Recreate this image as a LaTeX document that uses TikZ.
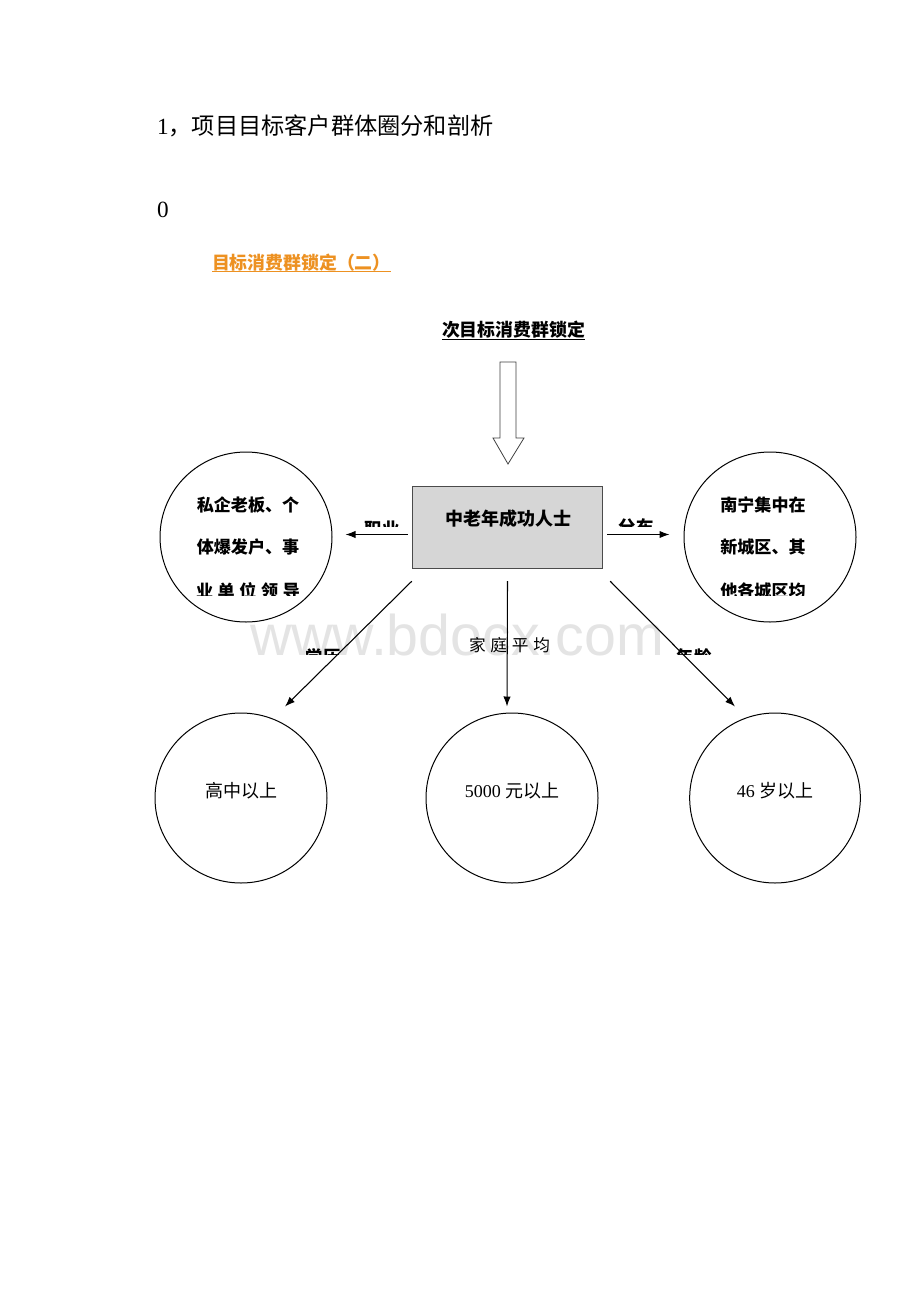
\documentclass[tikz,border=0pt]{standalone}
\usepackage{fontspec}
\setmainfont{Liberation Serif}
\newfontfamily\cjk{Noto Sans CJK SC}
\newfontfamily\wmfont{Liberation Sans}
\usetikzlibrary{arrows.meta,shapes.geometric}
\definecolor{orng}{RGB}{237,145,33}
\definecolor{boxfill}{RGB}{214,214,214}
\definecolor{boxline}{RGB}{75,75,75}
\definecolor{wmgray}{RGB}{228,228,228}
\begin{document}
\begin{tikzpicture}[x=0.75pt,y=-0.75pt,
  txt/.style={inner sep=0pt, outer sep=0pt},
  ctext/.style={txt, font=\cjk\bfseries\fontsize{12.8pt}{14pt}\selectfont},
  lbl/.style={txt, anchor=base, font=\cjk\bfseries\fontsize{13pt}{14pt}\selectfont},
  bubble/.style={draw=black, line width=0.75pt, ellipse, inner sep=0pt},
  arr/.style={line width=0.8pt, -{Latex[length=7.5pt,width=5.5pt]}},
  btext/.style={txt, font=\cjk\fontsize{13.5pt}{15pt}\selectfont}
]
\fill[white] (0,0) rectangle (920,1302);
\useasboundingbox (0,0) rectangle (920,1302);

% watermark
\node[txt, anchor=base west, text=wmgray, font=\wmfont\fontsize{43pt}{43pt}\selectfont] (wm) at (250,655) {www.bdocx.com};

% headings
\node[txt, anchor=west, font=\cjk\fontsize{17.4pt}{19pt}\selectfont] (title) at (157,126) {{\rmfamily 1}，项目目标客户群体圈分和剖析};
\node[txt, anchor=west, font=\rmfamily\fontsize{17.4pt}{19pt}\selectfont] (zero) at (157,210) {0};
\node[txt, anchor=west, text=orng, font=\cjk\bfseries\fontsize{13.4pt}{15pt}\selectfont] (sub) at (212,263) {目标消费群锁定（二）};
\coordinate (u1) at (0,271.5);
\draw[orng, line width=0.8pt] (sub.west |- u1) -- (sub.east |- u1);
\node[txt, font=\cjk\bfseries\fontsize{13.4pt}{15pt}\selectfont] (head) at (513.5,330) {次目标消费群锁定};
\coordinate (u2) at (0,339.5);
\draw[black, line width=0.8pt] (head.west |- u2) -- (head.east |- u2);

% hollow arrow
\draw[black!75, line width=0.6pt] (500,362) -- (516,362) -- (516,438) -- (524,438) -- (508,464) -- (493,438) -- (500,438) -- cycle;

% central box
\node[draw=boxline, line width=1.1pt, fill=boxfill, minimum width=142.5pt, minimum height=61.5pt, inner sep=0pt] (box) at (507.5,527.5) {};
\node[txt, font=\cjk\bfseries\fontsize{13.5pt}{15pt}\selectfont] (boxtext) at (508,519) {中老年成功人士};

% upper circles
\node[bubble, minimum width=129pt, minimum height=127.5pt] (lc) at (246,537) {};
\node[bubble, minimum width=129pt, minimum height=127.5pt] (rc) at (770,537) {};

\node[ctext] (l1) at (248,505) {私企老板、个};
\node[ctext] (l2) at (248,547) {体爆发户、事};
\node[ctext] (r1) at (763,505) {南宁集中在};
\node[ctext] (r2) at (763,547) {新城区、其};
\begin{scope}
  \clip (150,565) rectangle (870,595.5);
  \node[ctext] (l3) at (248,591) {\makebox[78pt][s]{业\hfil 单\hfil 位\hfil 领\hfil 导}};
  \node[ctext] (r3) at (763,591) {他各城区均};
\end{scope}

% lower circles
\node[bubble, minimum width=129pt, minimum height=127.5pt] (bl) at (241,798) {};
\node[bubble, minimum width=129pt, minimum height=127.5pt] (bm) at (512,798) {};
\node[bubble, minimum width=128pt, minimum height=127.5pt] (br) at (775,798) {};
\node[btext] (blt) at (241,791) {高中以上};
\node[btext] (bmt) at (512,791) {{\rmfamily 5000 }元以上};
\node[btext] (brt) at (775,791) {{\rmfamily 46 }岁以上};

% connectors
\draw[arr] ([shift={(-4,7)}]box.west) -- ([shift={(13,-2.5)}]lc.east);
\draw[arr] ([shift={(4,7)}]box.east) -- ([shift={(-14,-2.5)}]rc.west);
\draw[arr] ([shift={(0,12)}]box.south west) -- ([shift={(44,-6)}]bl.north);
\draw[arr] ([shift={(0,12)}]box.south) -- ([shift={(-5,-6)}]bm.north);
\draw[arr] ([shift={(7,12)}]box.south east) -- ([shift={(-40,-6)}]br.north);

% clipped connector labels
\begin{scope}
  \clip (300,500) rectangle (700,526.5);
  \node[lbl] (job) at (382,535) {职业};
  \node[lbl] (dist) at (636,533) {分布};
\end{scope}
\begin{scope}
  \clip (290,630) rectangle (730,654.5);
  \node[lbl] (edu) at (323,663) {学历};
  \node[lbl] (age) at (694,663) {年龄};
\end{scope}
\node[txt, font=\cjk\fontsize{12.5pt}{14pt}\selectfont] (fam) at (509.5,645) {\makebox[60.75pt][s]{家\hfil 庭\hfil 平\hfil 均}};
\end{tikzpicture}
\end{document}
